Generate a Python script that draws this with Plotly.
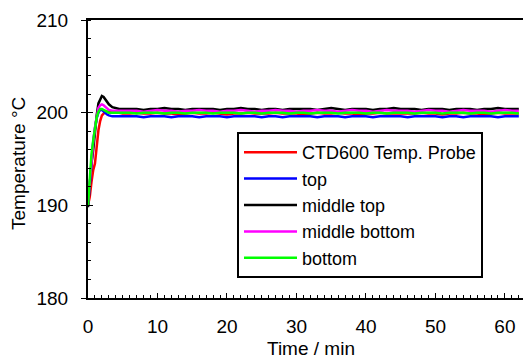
import plotly.graph_objects as go

time_min = [0, 0.25, 0.5, 0.75, 1, 1.25, 1.5, 1.75, 2, 2.25, 2.5, 2.75, 3, 3.5, 4, 4.5, 5,
            6, 7, 8, 9, 10, 11, 12, 13, 14, 15,
            16, 17, 18, 19, 20, 21, 22, 23, 24, 25,
            26, 27, 28, 29, 30, 31, 32, 33, 34, 35,
            36, 37, 38, 39, 40, 41, 42, 43, 44, 45,
            46, 47, 48, 49, 50, 51, 52, 53, 54, 55,
            56, 57, 58, 59, 60, 61, 62]

ctd600_probe = [190.0, 190.9, 192.5, 193.8, 194.5, 196.5, 198.1, 199.1, 199.7, 199.9, 200.1, 200.1, 200.1, 200.0, 200.0, 200.0, 199.9,
                199.9, 200.0, 199.9, 199.9, 200.0, 199.9, 199.9, 199.8, 199.9, 200.0,
                199.9, 199.9, 200.0, 199.9, 199.8, 199.9, 199.9, 200.0, 199.9, 199.9,
                199.9, 200.0, 199.9, 199.9, 199.9, 199.8, 199.9, 200.0, 199.9, 199.9,
                200.0, 199.9, 199.9, 199.8, 199.9, 199.9, 200.0, 199.9, 199.9, 199.9,
                199.9, 199.9, 200.0, 199.9, 199.9, 199.8, 199.9, 199.9, 200.0, 199.9,
                199.9, 199.8, 199.9, 200.0, 199.9, 199.9, 199.9]
top = [189.9, 192.5, 195.0, 196.8, 198.3, 199.4, 200.0, 200.3, 200.3, 200.1, 199.9, 199.8, 199.7, 199.6, 199.6, 199.6, 199.6,
       199.6, 199.6, 199.5, 199.6, 199.6, 199.6, 199.5, 199.6, 199.6, 199.6,
       199.5, 199.6, 199.6, 199.6, 199.5, 199.6, 199.6, 199.6, 199.6, 199.5,
       199.6, 199.6, 199.5, 199.6, 199.6, 199.6, 199.6, 199.5, 199.6, 199.6,
       199.6, 199.5, 199.6, 199.6, 199.6, 199.5, 199.6, 199.6, 199.6, 199.6,
       199.5, 199.6, 199.6, 199.6, 199.6, 199.5, 199.6, 199.6, 199.5, 199.6,
       199.6, 199.6, 199.6, 199.5, 199.6, 199.6, 199.6]
middle_top = [189.8, 192.4, 194.5, 196.0, 198.1, 199.7, 201.0, 201.5, 201.8, 201.7, 201.4, 201.1, 200.9, 200.6, 200.5, 200.4, 200.4,
              200.4, 200.4, 200.3, 200.4, 200.4, 200.5, 200.4, 200.4, 200.3, 200.4,
              200.4, 200.4, 200.4, 200.3, 200.4, 200.4, 200.5, 200.4, 200.4, 200.3,
              200.4, 200.4, 200.3, 200.4, 200.4, 200.4, 200.4, 200.3, 200.4, 200.5,
              200.4, 200.3, 200.4, 200.4, 200.4, 200.3, 200.4, 200.4, 200.5, 200.4,
              200.4, 200.4, 200.3, 200.4, 200.4, 200.4, 200.3, 200.4, 200.4, 200.4,
              200.3, 200.4, 200.4, 200.5, 200.4, 200.4, 200.4]
middle_bottom = [190.1, 192.6, 195.0, 196.8, 198.4, 199.7, 200.5, 200.8, 200.9, 200.8, 200.6, 200.4, 200.3, 200.2, 200.2, 200.2, 200.2,
                 200.2, 200.2, 200.1, 200.2, 200.3, 200.2, 200.2, 200.1, 200.2, 200.2,
                 200.3, 200.2, 200.2, 200.1, 200.2, 200.2, 200.3, 200.2, 200.1, 200.2,
                 200.2, 200.3, 200.2, 200.2, 200.1, 200.2, 200.2, 200.3, 200.2, 200.2,
                 200.1, 200.2, 200.3, 200.2, 200.2, 200.1, 200.2, 200.3, 200.2, 200.2,
                 200.2, 200.1, 200.2, 200.3, 200.2, 200.2, 200.1, 200.2, 200.3, 200.2,
                 200.2, 200.2, 200.1, 200.2, 200.3, 200.2, 200.2]
bottom = [190.0, 193.0, 195.5, 197.0, 198.5, 199.5, 200.1, 200.4, 200.4, 200.3, 200.2, 200.1, 200.0, 200.0, 200.0, 200.0, 200.0,
          200.0, 199.9, 200.0, 200.0, 200.0, 199.9, 200.0, 200.0, 199.9, 200.0,
          200.0, 200.0, 199.9, 200.0, 200.0, 200.0, 199.9, 200.0, 200.0, 199.9,
          200.0, 200.0, 200.0, 199.9, 200.0, 200.0, 199.9, 200.0, 200.0, 200.0,
          199.9, 200.0, 200.0, 200.0, 199.9, 200.0, 200.0, 199.9, 200.0, 200.0,
          200.0, 199.9, 200.0, 200.0, 200.0, 199.9, 200.0, 200.0, 200.0, 199.9,
          200.0, 200.0, 199.9, 200.0, 200.0, 200.0, 199.9]

series = [
    ("CTD600 Temp. Probe", ctd600_probe, "#ff0000"),
    ("top", top, "#0000ff"),
    ("middle top", middle_top, "#000000"),
    ("middle bottom", middle_bottom, "#ff00ff"),
    ("bottom", bottom, "#00ff00"),
]

x_title = "Time / min"
y_title = "Temperature °C"

FONT = "Liberation Sans, Arial, sans-serif"

fig = go.Figure()
for name, vals, color in series:
    fig.add_trace(go.Scatter(x=time_min[:len(vals)], y=vals, mode="lines", name=name,
                             line=dict(color=color, width=2.5)))

# dummy trace so the inside major-tick overlay axis is drawn
fig.add_trace(go.Scatter(x=[None], y=[None], yaxis="y2", showlegend=False,
                         hoverinfo="skip"))

fig.update_layout(
    width=523, height=363,
    margin=dict(l=88, r=0, t=20, b=65, autoexpand=False),
    paper_bgcolor="white", plot_bgcolor="white",
    font=dict(family=FONT, size=19, color="black"),
    showlegend=True,
    legend=dict(x=(237 - 88) / 435, y=(298 - 132) / 278, xanchor="left", yanchor="top",
                bgcolor="white", bordercolor="black", borderwidth=2,
                font=dict(family=FONT, size=18, color="black"),
                itemwidth=53, tracegroupgap=0),
    xaxis=dict(range=[0, 62.6], tick0=0, dtick=10, ticks="inside", ticklen=5,
               tickwidth=1, tickcolor="black",
               minor=dict(dtick=1, ticks="inside", ticklen=3, tickcolor="black"),
               showline=True, linecolor="black", linewidth=2, mirror=True,
               showgrid=False, zeroline=False, ticklabelstandoff=10,
               automargin=False),
    yaxis=dict(range=[180, 210], tick0=180, dtick=10, ticks="outside", ticklen=5,
               tickwidth=1, tickcolor="black",
               minor=dict(dtick=2, ticks="inside", ticklen=3, tickcolor="black"),
               showline=True, linecolor="black", linewidth=2, mirror=False,
               showgrid=False, zeroline=False, ticklabelstandoff=9,
               automargin=False),
    yaxis2=dict(range=[180, 210], overlaying="y", side="left", anchor="x",
                tick0=180, dtick=10, ticks="inside", ticklen=5, tickwidth=1,
                tickcolor="black", showticklabels=False, showline=False,
                showgrid=False, zeroline=False),
    annotations=[
        dict(text=x_title, xref="paper", yref="paper",
             x=(311 - 88) / 435, y=(298 - 348) / 278, xanchor="center", yanchor="middle",
             showarrow=False, font=dict(family=FONT, size=19, color="black")),
        dict(text=y_title, xref="paper", yref="paper", textangle=-90,
             x=(18 - 88) / 435, y=(298 - 164) / 278, xanchor="center", yanchor="middle",
             showarrow=False, font=dict(family=FONT, size=19, color="black")),
    ],
)

fig.write_html("out.html")
